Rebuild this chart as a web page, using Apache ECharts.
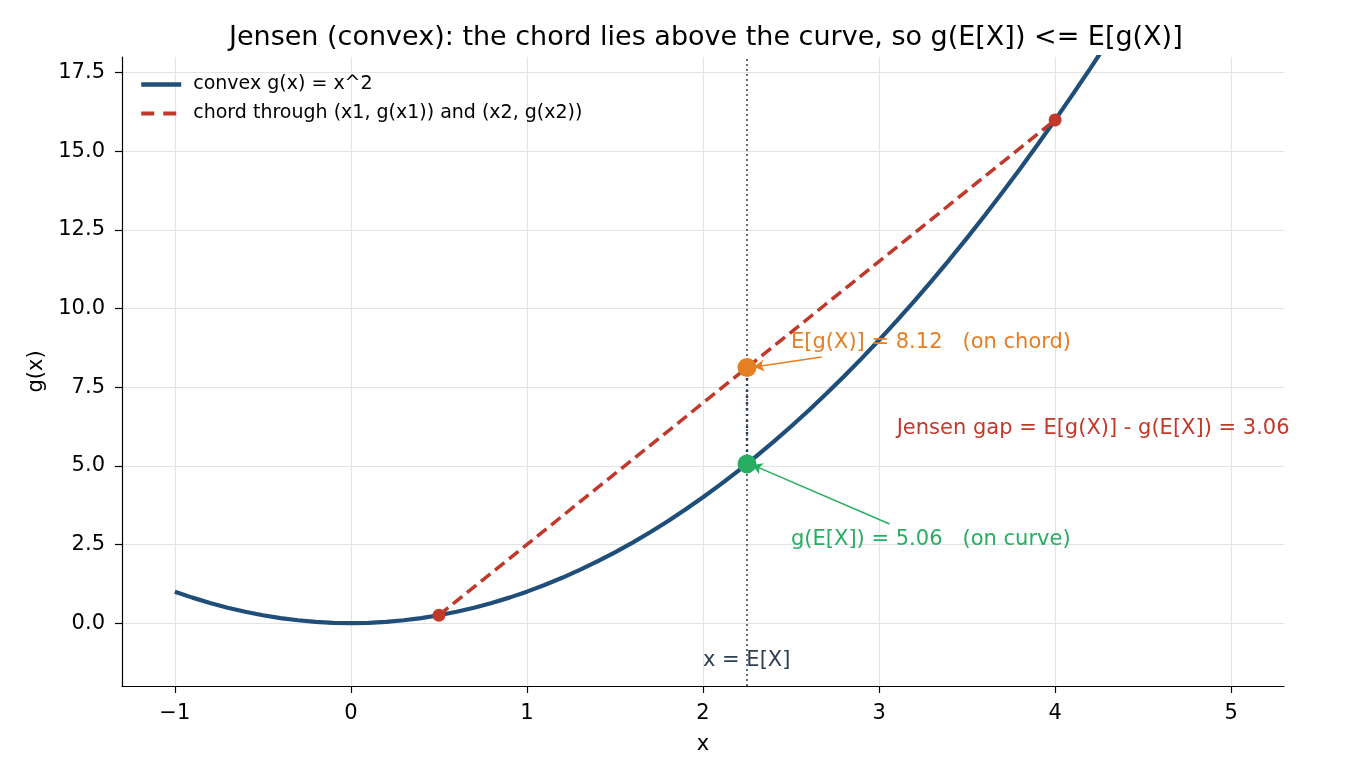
<!DOCTYPE html>
<html>
<head>
<meta charset="utf-8">
<script src="https://cdn.jsdelivr.net/npm/echarts@6/dist/echarts.min.js"></script>
<style>html,body{margin:0;padding:0;background:#fff}#c{width:1350px;height:780px}</style>
</head>
<body>
<div id="c"></div>
<script>
// ---- data ----
const curveX = [-1.0,-0.9,-0.8,-0.7,-0.6,-0.5,-0.4,-0.3,-0.2,-0.1,0,0.1,0.2,0.3,0.4,0.5,0.6,0.7,0.8,0.9,1.0,1.1,1.2,1.3,1.4,1.5,1.6,1.7,1.8,1.9,2.0,2.1,2.2,2.3,2.4,2.5,2.6,2.7,2.8,2.9,3.0,3.1,3.2,3.3,3.4,3.5,3.6,3.7,3.8,3.9,4.0,4.1,4.2,4.3];
const curveY = [1,0.81,0.64,0.49,0.36,0.25,0.16,0.09,0.04,0.01,0,0.01,0.04,0.09,0.16,0.25,0.36,0.49,0.64,0.81,1,1.21,1.44,1.69,1.96,2.25,2.56,2.89,3.24,3.61,4,4.41,4.84,5.29,5.76,6.25,6.76,7.29,7.84,8.41,9,9.61,10.24,10.89,11.56,12.25,12.96,13.69,14.44,15.21,16,16.81,17.64,18.49];
const chordX = [0.5, 4];
const chordY = [0.25, 16];
const meanX = 2.25;
const meanG = 8.125;   // E[g(X)]
const gMean = 5.0625;  // g(E[X])
const xTicks = [-1,0,1,2,3,4,5];
const yTicks = [0,2.5,5,7.5,10,12.5,15,17.5];
const seriesNames = ['convex g(x) = x^2', 'chord through (x1, g(x1)) and (x2, g(x2))'];
const annTexts = ['E[g(X)] = 8.12   (on chord)', 'g(E[X]) = 5.06   (on curve)', 'Jensen gap = E[g(X)] - g(E[X]) = 3.06', 'x = E[X]'];
const annPos = [[2.5, 8.92], [2.5, 2.67], [3.1, 6.2], [2.0, -1.18]];
const annColors = ['#e67e22', '#27ae60', '#c0392b', '#2c3e50'];
const arrowsFrom = [[2.674, 8.46], [3.06, 3.15]];
const arrowsTo = [[2.29, 8.14], [2.28, 5.03]];

const FONT = 'DejaVu Sans';
const BLUE = '#1f4e79', RED = '#c0392b';
const chart = echarts.init(document.getElementById('c'), null, {renderer: 'canvas'});

const curveData = curveX.map((x, i) => [x, curveY[i]]);
const chordData = chordX.map((x, i) => [x, chordY[i]]);
const hidden = {color: 'rgba(0,0,0,0)', borderWidth: 0, opacity: 0};

const option = {
  animation: false,
  backgroundColor: '#fff',
  textStyle: {fontFamily: FONT},
  title: {
    text: 'Jensen (convex): the chord lies above the curve, so g(E[X]) <= E[g(X)]',
    left: 224, top: 19,
    textStyle: {fontFamily: FONT, fontSize: 27, fontWeight: 'normal', color: '#000'}
  },
  grid: {left: 122, right: 66, top: 57, bottom: 94, containLabel: false},
  legend: {
    orient: 'vertical', left: 134, top: 70, itemGap: 10,
    itemWidth: 40, itemHeight: 14,
    data: [
      {name: seriesNames[0], lineStyle: {width: 4.5, color: BLUE}, itemStyle: hidden},
      {name: seriesNames[1], lineStyle: {width: 3.8, color: RED, type: [13, 9]}, itemStyle: hidden}
    ],
    textStyle: {fontFamily: FONT, fontSize: 19, color: '#000', padding: [0, 0, 0, 7]}
  },
  xAxis: {
    type: 'value', min: -1.3, max: 5.3,
    name: 'x', nameLocation: 'middle', nameGap: 48,
    nameTextStyle: {fontFamily: FONT, fontSize: 21, color: '#000'},
    axisLine: {show: true, onZero: false, lineStyle: {color: '#000', width: 1.2}},
    axisTick: {show: true, length: 7, inside: false, customValues: xTicks, lineStyle: {color: '#000', width: 1.2}},
    axisLabel: {customValues: xTicks, margin: 17, fontFamily: FONT, fontSize: 21, color: '#000',
      formatter: v => v < 0 ? '\u2212' + (-v) : String(v)},
    splitLine: {show: true, lineStyle: {color: '#e3e3e3', width: 1.2}}
  },
  yAxis: {
    type: 'value', min: -2, max: 18,
    name: 'g(x)', nameLocation: 'middle', nameGap: 75, nameRotate: 90,
    nameTextStyle: {fontFamily: FONT, fontSize: 21, color: '#000'},
    axisLine: {show: true, onZero: false, lineStyle: {color: '#000', width: 1.2}},
    axisTick: {show: true, length: 7, inside: false, customValues: yTicks, lineStyle: {color: '#000', width: 1.2}},
    axisLabel: {customValues: yTicks, margin: 17, fontFamily: FONT, fontSize: 21, color: '#000',
      formatter: v => v.toFixed(1)},
    splitLine: {show: true, lineStyle: {color: '#e3e3e3', width: 1.2}}
  },
  series: [
    {
      name: seriesNames[0], type: 'line', data: curveData, showSymbol: false, symbol: 'none',
      lineStyle: {color: BLUE, width: 4.2}, itemStyle: {color: BLUE}, clip: true, z: 3,
      markLine: {
        silent: true, symbol: ['none', 'none'], label: {show: false},
        lineStyle: {color: '#2c3e50', type: [2, 3], width: 1.5},
        data: [{xAxis: meanX}]
      }
    },
    {
      name: seriesNames[1], type: 'line', data: chordData, symbol: 'none',
      lineStyle: {color: RED, width: 3.5, type: [12, 6]}, itemStyle: {color: RED}, z: 4
    },
    {
      name: 'endpoints', type: 'scatter', data: chordData, symbolSize: 13, z: 5, silent: true,
      itemStyle: {color: RED, opacity: 1}
    },
    {
      name: 'gap', type: 'line', data: [[meanX, gMean], [meanX, meanG]], symbol: 'none',
      lineStyle: {color: '#2c3e50', width: 2.5, type: [2, 4]}, z: 2, silent: true
    },
    {
      name: 'pts', type: 'scatter', data: [
        {value: [meanX, meanG], itemStyle: {color: '#e67e22', opacity: 1}},
        {value: [meanX, gMean], itemStyle: {color: '#27ae60', opacity: 1}}
      ], symbolSize: 19, z: 6, silent: true
    },
    {
      name: 'arrows', type: 'line', data: [], silent: true,
      markLine: {
        silent: true, symbol: ['none', 'arrow'], symbolSize: [9, 10], label: {show: false},
        data: arrowsFrom.map((f, i) => [
          {coord: f, lineStyle: {color: annColors[i], width: 1.5, type: 'solid'}},
          {coord: arrowsTo[i]}
        ])
      }
    },
    {
      name: 'labels', type: 'scatter', symbolSize: 0, silent: true, z: 7,
      itemStyle: {opacity: 1},
      data: annPos.map((p, i) => ({
        value: p,
        label: {show: true, position: 'right', distance: 0, formatter: annTexts[i],
          color: annColors[i], fontFamily: FONT, fontSize: 21, opacity: 1}
      }))
    }
  ]
};
chart.setOption(option);
</script>
</body>
</html>
